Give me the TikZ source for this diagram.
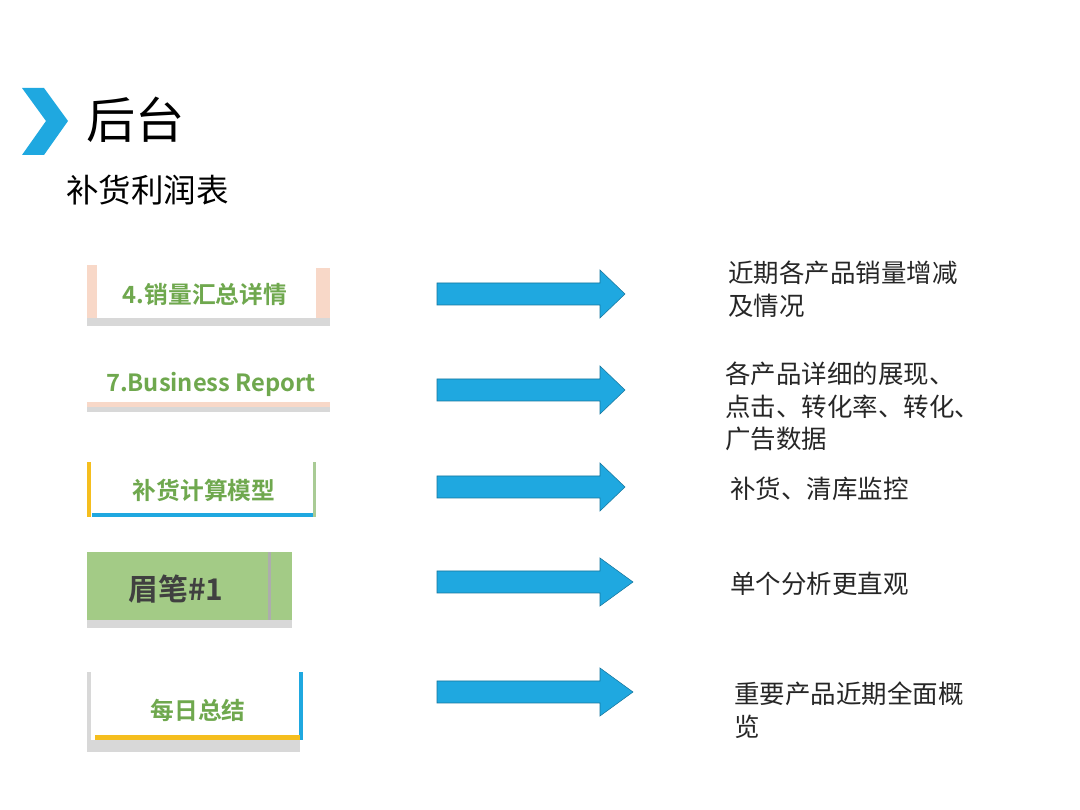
\documentclass[tikz,border=0pt]{standalone}
\usepackage{fontspec}
\setmainfont{Noto Sans CJK SC}
\newfontfamily\boldcjk{Noto Sans CJK SC Bold}
\usetikzlibrary{shapes.arrows}
\definecolor{skyblue}{HTML}{1FA8E0}
\definecolor{tabgreen}{HTML}{6FA84E}
\definecolor{peach}{HTML}{F8D8C8}
\definecolor{tabgray}{HTML}{D8D8D8}
\definecolor{gold}{HTML}{F5BE1E}
\definecolor{fillgreen}{HTML}{A3CB86}
\tikzset{
  tablabel/.style={text=tabgreen, font=\boldcjk\fontsize{13.5}{15}\selectfont},
  note/.style={anchor=north west, align=left, text=black!85, font=\fontsize{14.5}{18.5}\selectfont},
  flow/.style={fill=skyblue, draw=skyblue!70!black, line width=0.3pt}
}
\begin{document}
\begin{tikzpicture}[x=0.02cm, y=-0.02cm]
\useasboundingbox (0,0) rectangle (1080,810);
\fill[white] (0,0) rectangle (1080,810);
% Heading
\fill[skyblue] (22,88) -- (44,88) -- (68,121) -- (44,155) -- (22,155) -- (46,121) -- cycle;
\node[anchor=west, font=\fontsize{28}{30}\selectfont] (title) at (80,120) {后台};
\node[anchor=west, font=\fontsize{18.5}{20}\selectfont] (sub) at (60,190) {补货利润表};
% Tabs
\fill[tabgray] (87,318) rectangle (330,326);
\fill[peach] (87,265) rectangle (97,318);
\fill[peach] (316,268) rectangle (330,318);
\node[tablabel] (t1) at (205,294) {4.销量汇总详情};
\fill[tabgray] (87,405) rectangle (330,412);
\fill[peach] (87,402) rectangle (330,407);
\node[tablabel] (t2) at (211,384) {7.Business Report};
\fill[gold] (87,462) rectangle (91,517);
\fill[skyblue] (92,513) rectangle (313,517);
\fill[tabgreen!60] (313,462) rectangle (316,517);
\node[tablabel] (t3) at (204,490) {补货计算模型};
\fill[fillgreen] (87,552) rectangle (292,620);
\fill[tabgray!80!black] (268,552) rectangle (271,620);
\fill[tabgray] (87,620) rectangle (292,628);
\node[text=black!75, font=\boldcjk\fontsize{17}{19}\selectfont] (t4) at (176,589) {眉笔\#1};
\fill[tabgray] (87,672) rectangle (91,752);
\fill[skyblue] (299,672) rectangle (303,740);
\fill[gold] (95,735) rectangle (300,740);
\fill[tabgray] (87,740) rectangle (300,752);
\node[tablabel] (t5) at (198,710) {每日总结};
% Arrows
\foreach \y/\e in {294/625, 390/625, 487/625, 582/633, 692/633}
  \draw[flow] (437,\y-11) -- (600,\y-11) -- (600,\y-24) -- (\e,\y) -- (600,\y+24) -- (600,\y+11) -- (437,\y+11) -- cycle;
% Notes
\node[note] (n1) at (722,255) {近期各产品销量增减\\及情况};
\node[note] (n2) at (719,356) {各产品详细的展现、\\点击、转化率、转化、\\广告数据};
\node[note] (n3) at (724,471) {补货、清库监控};
\node[note] (n4) at (724,566) {单个分析更直观};
\node[note] (n5) at (728,676) {重要产品近期全面概\\览};
\end{tikzpicture}
\end{document}
